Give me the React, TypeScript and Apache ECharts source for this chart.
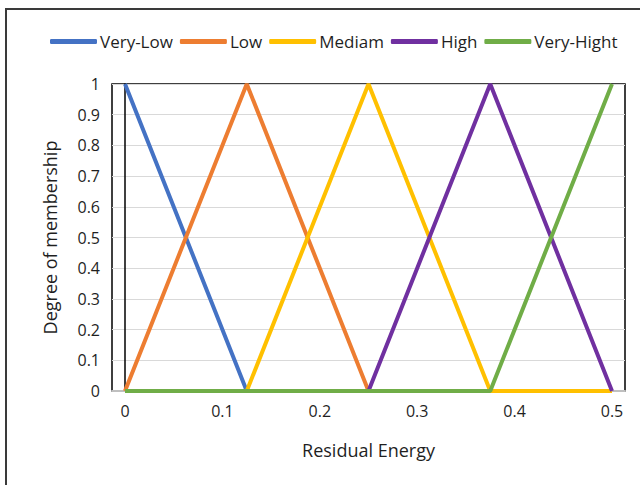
import React, { useEffect, useRef } from "react";
import * as echarts from "echarts";

const seriesNames = ["Very-Low", "Low", "Mediam", "High", "Very-Hight"];
const colors = ["#4472C4", "#ED7D31", "#FFC000", "#7030A0", "#70AD47"];
const xPoints = [0, 0.125, 0.25, 0.375, 0.5];
const veryLow = [1, 0, 0, 0, 0];
const low = [0, 1, 0, 0, 0];
const mediam = [0, 0, 1, 0, 0];
const high = [0, 0, 0, 1, 0];
const veryHight = [0, 0, 0, 0, 1];
const xTickLabels = [0, 0.1, 0.2, 0.3, 0.4, 0.5];
const seriesValues = [veryLow, low, mediam, high, veryHight];

const FONT = "'Open Sans', sans-serif";

export default function App() {
  const ref = useRef<HTMLDivElement>(null);
  useEffect(() => {
    const chart = echarts.init(ref.current!, null, { renderer: "svg" });
    chart.setOption({
      animation: false,
      backgroundColor: "#fff",
      textStyle: { fontFamily: FONT, color: "#1f1f1f" },
      graphic: [
        {
          type: "rect",
          shape: { x: 6, y: 9, width: 700, height: 600 },
          style: { fill: "none", stroke: "#3a3a3a", lineWidth: 2 },
          silent: true,
        },
      ],
      legend: {
        top: 28,
        left: 45,
        itemWidth: 47,
        itemHeight: 5,
        itemGap: 7,
        icon: "roundRect",
        textStyle: { fontFamily: FONT, fontSize: 17, color: "#1f1f1f", padding: [0, 0, 0, -2] },
        data: seriesNames,
      },
      grid: {
        left: 112,
        right: 15,
        top: 84,
        bottom: 94,
        show: true,
        borderColor: "#000",
        borderWidth: 1.5,
        containLabel: false,
      },
      xAxis: {
        type: "value",
        min: -0.01335,
        max: 0.51335,
        name: "Residual Energy",
        nameLocation: "middle",
        nameGap: 50,
        nameTextStyle: { fontFamily: FONT, fontSize: 18, color: "#1f1f1f" },
        axisLine: { show: true, lineStyle: { color: "#bfbfbf", width: 2 } },
        axisTick: { show: false },
        splitLine: { show: false },
        axisLabel: {
          customValues: xTickLabels,
          fontFamily: FONT,
          fontSize: 16,
          color: "#1f1f1f",
          margin: 12,
          formatter: (v: number) => String(Math.round(v * 10) / 10),
        },
      },
      yAxis: {
        type: "value",
        min: 0,
        max: 1,
        interval: 0.1,
        name: "Degree of membership",
        nameLocation: "middle",
        nameGap: 53,
        nameTextStyle: { fontFamily: FONT, fontSize: 18, color: "#1f1f1f" },
        axisLine: { show: true, lineStyle: { color: "#000", width: 1.5 } },
        axisTick: { show: false },
        splitLine: { show: true, lineStyle: { color: "#d9d9d9", width: 1 } },
        axisLabel: {
          fontFamily: FONT,
          fontSize: 16,
          color: "#1f1f1f",
          margin: 12,
          formatter: (v: number) => String(Math.round(v * 10) / 10),
        },
      },
      series: seriesNames.map((name, i) => ({
        name,
        type: "line",
        data: xPoints.map((x, j) => [x, seriesValues[i][j]]),
        showSymbol: false,
        symbol: "none",
        color: colors[i],
        lineStyle: { width: 4, color: colors[i] },
        z: 2 + i,
      })),
    });
    return () => chart.dispose();
  }, []);
  return (
    <div
      ref={ref}
      style={{ position: "absolute", left: 0, top: 0, width: 640, height: 485 }}
    />
  );
}
